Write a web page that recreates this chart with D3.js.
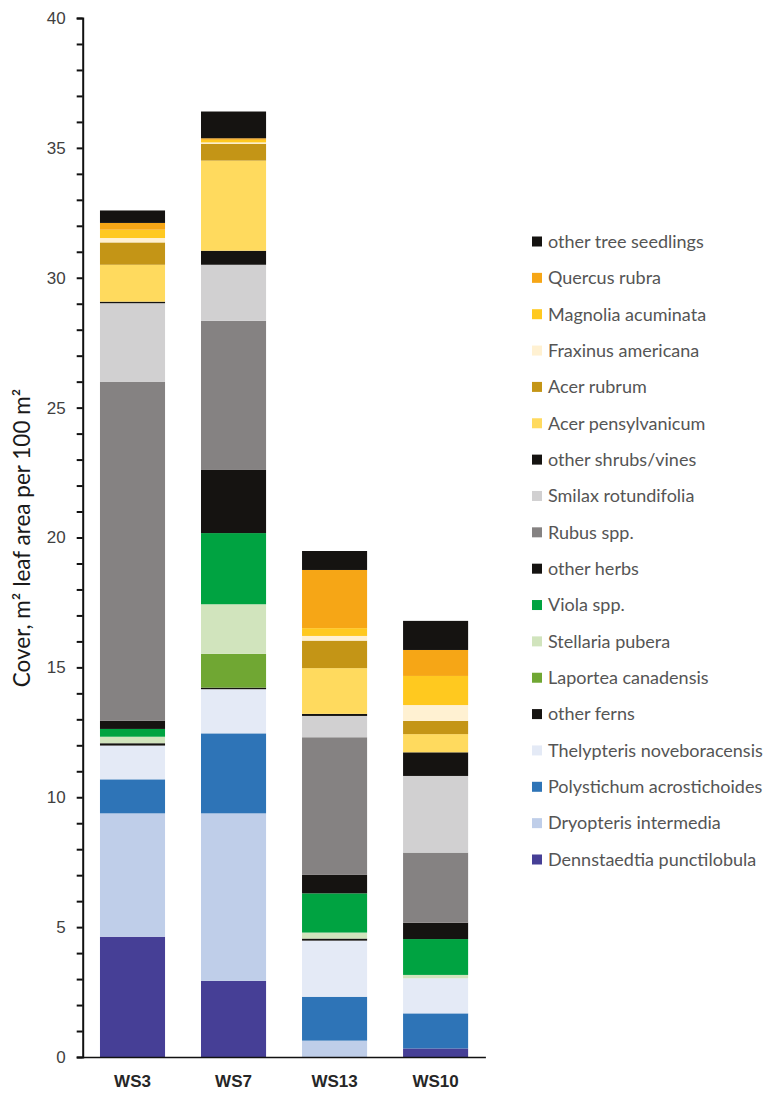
<!DOCTYPE html>
<html>
<head>
<meta charset="utf-8">
<script src="https://cdn.jsdelivr.net/npm/d3@7"></script>
<style>
  html, body { margin: 0; padding: 0; background: #fff; }
  svg { display: block; font-family: Lato, "Open Sans", sans-serif; }
</style>
</head>
<body>
<svg id="chart" width="770" height="1094"></svg>
<script>
// Watershed sites along the x axis
const sites = ["WS3", "WS7", "WS13", "WS10"];

// Species groups, stacked from the bottom of each bar upwards
const species = [
  "Dennstaedtia punctilobula",
  "Dryopteris intermedia",
  "Polystichum acrostichoides",
  "Thelypteris noveboracensis",
  "other ferns",
  "Laportea canadensis",
  "Stellaria pubera",
  "Viola spp.",
  "other herbs",
  "Rubus spp.",
  "Smilax rotundifolia",
  "other shrubs/vines",
  "Acer pensylvanicum",
  "Acer rubrum",
  "Fraxinus americana",
  "Magnolia acuminata",
  "Quercus rubra",
  "other tree seedlings"
];

// Cover (m² leaf area per 100 m²) for each species, same order as above
const ws3  = [4.63, 4.75, 1.31, 1.30, 0.09, 0.00, 0.25, 0.30, 0.31, 13.06, 3.02, 0.06, 1.42, 0.86, 0.17, 0.32, 0.26, 0.48];
const ws7  = [2.93, 6.45, 3.08, 1.70, 0.06, 1.30, 1.91, 2.74, 2.43, 5.74, 2.16, 0.54, 3.47, 0.65, 0.05, 0.10, 0.06, 1.03];
const ws13 = [0.00, 0.63, 1.69, 2.16, 0.08, 0.00, 0.23, 1.51, 0.71, 5.30, 0.82, 0.08, 1.76, 1.06, 0.18, 0.30, 2.24, 0.73];
const ws10 = [0.33, 0.00, 1.35, 1.35, 0.00, 0.00, 0.13, 1.38, 0.63, 2.70, 2.95, 0.91, 0.70, 0.51, 0.61, 1.12, 1.00, 1.12];

const colors = [
  "#463f96", "#bfcee9", "#2e74b7", "#e4eaf6", "#151311",
  "#70a733", "#d1e4bd", "#00a341", "#151311", "#858282",
  "#d1d0d1", "#151311", "#ffda5e", "#c49516", "#fff1d2",
  "#ffc91f", "#f6a616", "#151311"
];

// y-axis tick values: every unit gets a tick, every 5 gets a label
const yTicks = d3.range(0, 41, 1);

const siteValues = { WS3: ws3, WS7: ws7, WS13: ws13, WS10: ws10 };
const table = sites.map(s => {
  const row = { site: s };
  species.forEach((sp, i) => { row[sp] = siteValues[s][i]; });
  return row;
});

const svg = d3.select("#chart");

const y = d3.scaleLinear().domain([0, 40]).range([1057, 18]);
const x = d3.scaleBand().domain(sites).range([82.7, 485.4])
  .paddingInner(0.356).paddingOuter(0.171);
const color = d3.scaleOrdinal().domain(species).range(colors);

const stacked = d3.stack().keys(species)(table);

// Bars
svg.append("g").selectAll("g")
  .data(stacked)
  .join("g")
  .attr("fill", d => color(d.key))
  .selectAll("rect")
  .data(d => d)
  .join("rect")
  .attr("x", d => x(d.data.site))
  .attr("width", x.bandwidth())
  .attr("y", d => y(d[1]))
  .attr("height", d => Math.max(0, y(d[0]) - y(d[1])));

// Y axis
const yAxis = svg.append("g")
  .attr("transform", "translate(82.7,0)")
  .call(d3.axisLeft(y)
    .tickValues(yTicks)
    .tickSize(6)
    .tickPadding(11)
    .tickFormat(d => d % 5 === 0 ? d : ""));
yAxis.select(".domain").attr("stroke", "#111").attr("stroke-width", 2);
yAxis.selectAll(".tick line").attr("stroke", "#111").attr("stroke-width", 2);
yAxis.selectAll(".tick text")
  .attr("fill", "#3f3f3f")
  .style("font-size", "17px");

// X axis
const xAxis = svg.append("g")
  .attr("transform", "translate(0,1057)")
  .call(d3.axisBottom(x).tickSize(0).tickPadding(18));
xAxis.select(".domain").attr("stroke", "#111").attr("stroke-width", 1.5);
xAxis.selectAll(".tick text")
  .attr("fill", "#262626")
  .style("font-size", "17px")
  .style("font-weight", "bold");

// Y axis title
svg.append("text")
  .attr("transform", "translate(30,538) rotate(-90)")
  .attr("text-anchor", "middle")
  .attr("fill", "#1a1a1a")
  .style("font-size", "22.5px")
  .text("Cover, m² leaf area per 100 m²");

// Legend, top entry is the top of the stack
const legendItems = species.slice().reverse();
const ly = d3.scalePoint().domain(legendItems).range([241.5, 859.5]);
const legend = svg.append("g").selectAll("g")
  .data(legendItems)
  .join("g")
  .attr("transform", d => `translate(532,${ly(d)})`);
legend.append("rect")
  .attr("x", 0).attr("y", -5)
  .attr("width", 10).attr("height", 10)
  .attr("fill", d => color(d));
legend.append("text")
  .attr("x", 16).attr("y", 0)
  .attr("dy", "0.35em")
  .attr("fill", "#555")
  .style("font-size", "18px")
  .text(d => d);
</script>
</body>
</html>
